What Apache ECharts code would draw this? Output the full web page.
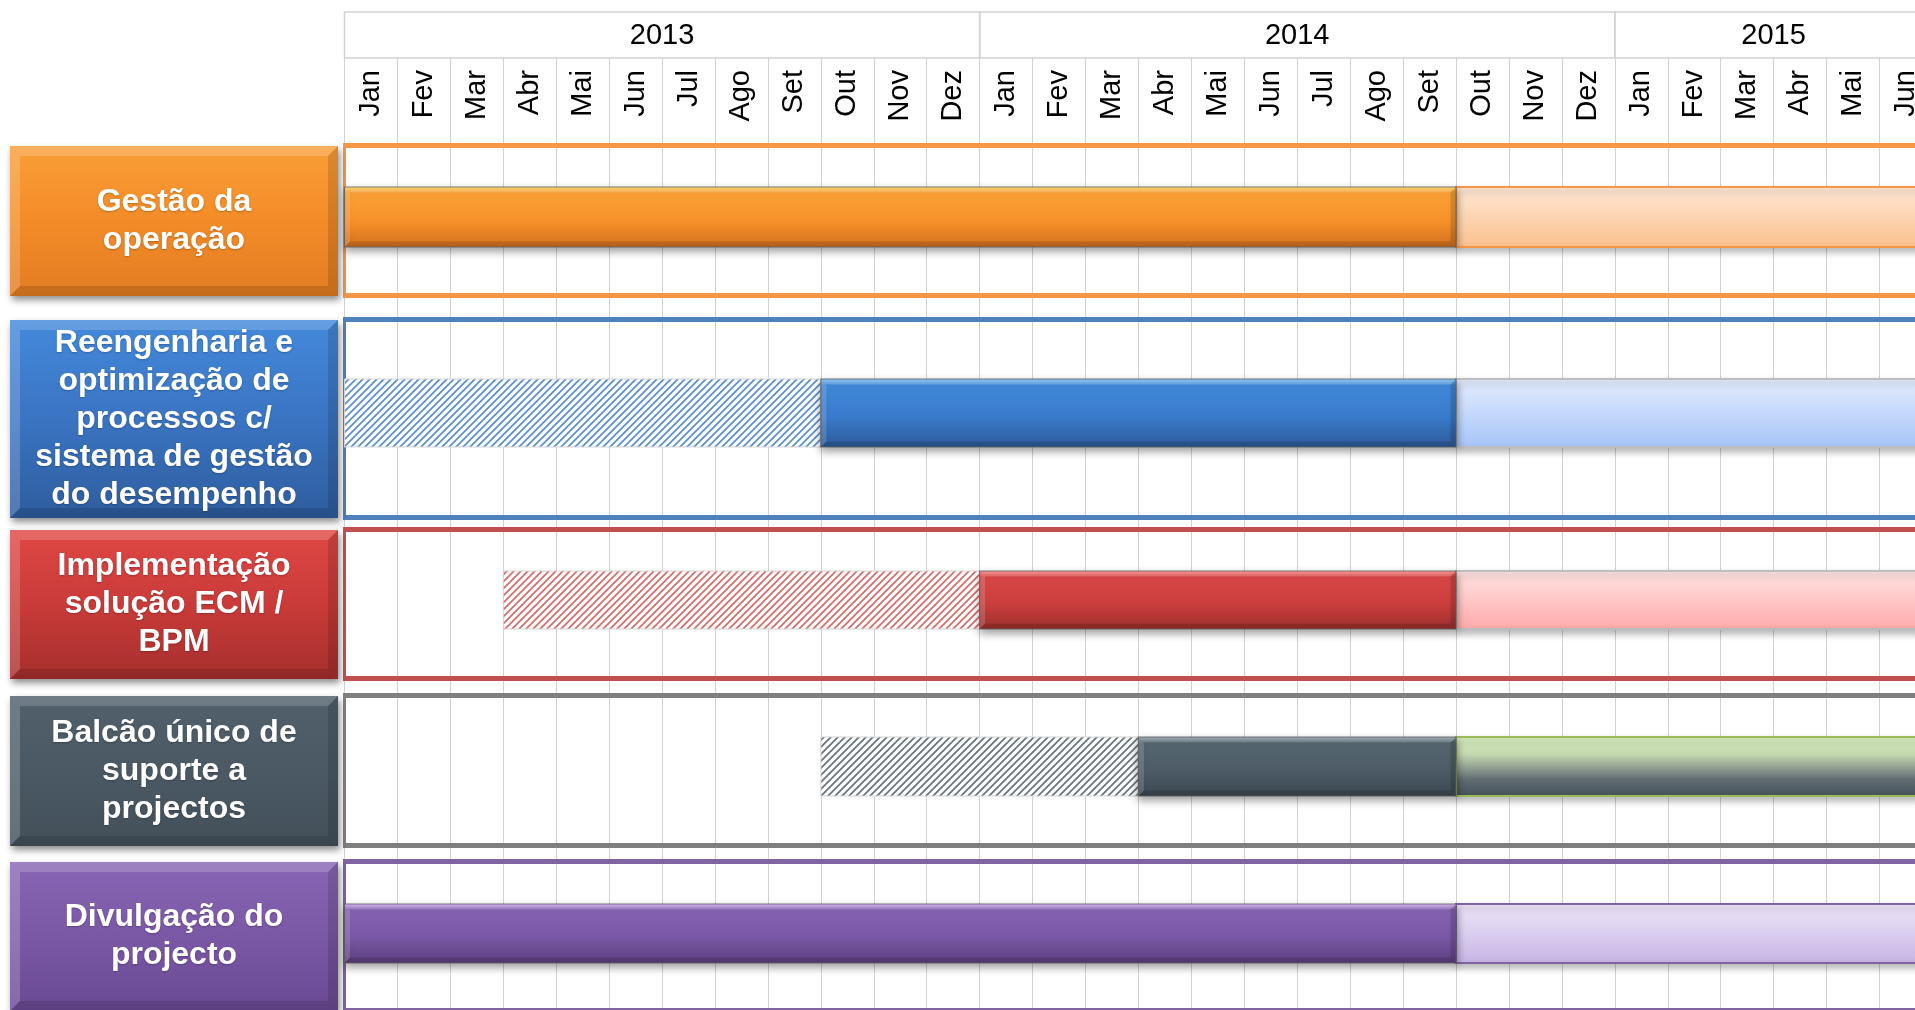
<!DOCTYPE html>
<html>
<head>
<meta charset="utf-8">
<script src="https://cdn.jsdelivr.net/npm/echarts@6/dist/echarts.min.js"></script>
<style>
html,body{margin:0;padding:0;background:#ffffff;}
#c{width:1915px;height:1010px;}
</style>
</head>
<body>
<div id="c"></div>
<script>
// ---------------- DATA ----------------
const anos = ['2013', '2014', '2015'];
const meses = ['Jan', 'Fev', 'Mar', 'Abr', 'Mai', 'Jun', 'Jul', 'Ago', 'Set', 'Out', 'Nov', 'Dez'];
const totalMeses = 30; // Jan 2013 .. Jun 2015
const tarefas = [
  'Gestão da\noperação',
  'Reengenharia e\noptimização de\nprocessos c/\nsistema de gestão\ndo desempenho',
  'Implementação\nsolução ECM /\nBPM',
  'Balcão único de\nsuporte a\nprojectos',
  'Divulgação do\nprojecto'
];
// month index, Jan 2013 = 0 (values are month boundaries)
const inicioPreparacao = [null, 0, 3, 9, null];   // hatched part
const inicioExecucao   = [0, 9, 12, 15, 0];        // solid part start
const fimExecucao      = [21, 21, 21, 21, 21];     // solid part end (end of Set 2014)
const fimContinuidade  = [30, 30, 30, 30, 30];     // light part end

// ---------------- LAYOUT / STYLE ----------------
const X0 = 344.5, MES_W = 52.93;
const layoutLinhas = [
  {top: 143, height: 155, bar: 60, shift: -3.5},
  {top: 317, height: 203, bar: 68, shift: -5.5},
  {top: 527, height: 154, bar: 58, shift: -4},
  {top: 693, height: 155, bar: 59, shift: -4},
  {top: 859, height: 154, bar: 59, shift: -2.5}
];
const temas = [
  { linha: '#F79646', caixa: ['#FA9E38', '#F38C27', '#E27C22'],
    solido: ['#FFD65C', '#FBA135', '#F7922B', '#D2701F'],
    claro: [[0, '#FEE8D6'], [1, '#FBC08D']], claroBorda: '#F79646', hach: '#F79646' },
  { linha: '#4F81BD', caixa: ['#4489DB', '#3A74C2', '#2E5D9E'],
    solido: ['#80C0F8', '#4189DA', '#3A7BCB', '#2C5B99'],
    claro: [[0, '#E4EDFD'], [1, '#A6C4F8']], claroBorda: '#BDBDBD', hach: '#5B8ED4' },
  { linha: '#C0504D', caixa: ['#DF4744', '#C93B39', '#A62F2D'],
    solido: ['#FF8C8C', '#DA4646', '#CB3F3E', '#9C2F2F'],
    claro: [[0, '#FFE4E4'], [1, '#FFA9A9']], claroBorda: '#BDBDBD', hach: '#D96A6A' },
  { linha: '#7F7F7F', caixa: ['#51606B', '#4B5964', '#43505A'],
    solido: ['#98A8B5', '#56666F', '#4D5C67', '#3C4852'],
    claro: [[0, '#DCF1C3'], [0.3, '#C4D8AE'], [0.5, '#97A595'], [0.72, '#5F6B70'], [1, '#45515B']],
    claroBorda: '#9BBB59', hach: '#67747C' },
  { linha: '#8064A2', caixa: ['#8966B5', '#7A58A5', '#6A4993'],
    solido: ['#D6ADFB', '#8663B3', '#7A58A6', '#5D3F7F'],
    claro: [[0, '#EEE7F9'], [1, '#C6B3E4']], claroBorda: '#8064A2', hach: '#8064A2' }
];
const FONTE = "'Liberation Sans', Arial, sans-serif";

function vgrad(stops, offsets) {
  const n = stops.length;
  return { type: 'linear', x: 0, y: 0, x2: 0, y2: 1,
    colorStops: stops.map((c, k) => ({ offset: offsets ? offsets[k] : k / (n - 1), color: c })) };
}
function vgradPairs(pairs) {
  return { type: 'linear', x: 0, y: 0, x2: 0, y2: 1,
    colorStops: pairs.map(p => ({ offset: p[0], color: p[1] })) };
}
const cacheHach = {};
function hachura(cor) {
  if (cacheHach[cor]) return cacheHach[cor];
  const s = 7;
  const c = document.createElement('canvas');
  c.width = s; c.height = s;
  const g = c.getContext('2d');
  g.fillStyle = '#ffffff'; g.fillRect(0, 0, s, s);
  g.strokeStyle = cor; g.lineWidth = 1.7;
  g.beginPath();
  g.moveTo(0, s); g.lineTo(s, 0);
  g.moveTo(-1, 1); g.lineTo(1, -1);
  g.moveTo(s - 1, s + 1); g.lineTo(s + 1, s - 1);
  g.stroke();
  cacheHach[cor] = c;
  return c;
}
function bisel(x, y, w, h, b, claro, escuro) {
  return [
    {type: 'polygon', shape: {points: [[x, y], [x + w, y], [x + w - b, y + b], [x + b, y + b]]}, style: {fill: claro}},
    {type: 'polygon', shape: {points: [[x, y], [x + b, y + b], [x + b, y + h - b], [x, y + h]]}, style: {fill: claro}},
    {type: 'polygon', shape: {points: [[x + w, y], [x + w, y + h], [x + w - b, y + h - b], [x + w - b, y + b]]}, style: {fill: escuro}},
    {type: 'polygon', shape: {points: [[x, y + h], [x + b, y + h - b], [x + w - b, y + h - b], [x + w, y + h]]}, style: {fill: escuro}}
  ];
}

// ---------------- GRIDS / AXES ----------------
const baseGrid = {left: X0, width: MES_W * totalMeses, outerBoundsMode: 'none', containLabel: false};
const grids = [
  Object.assign({}, baseGrid, {top: 12, height: 46}),    // years
  Object.assign({}, baseGrid, {top: 58, height: 85}),    // months
  Object.assign({}, baseGrid, {top: 58, bottom: 0})      // background grid lines
];
layoutLinhas.forEach(L => grids.push(Object.assign({}, baseGrid, {top: L.top, height: L.height})));

const xAxes = grids.map((g, k) => ({
  gridIndex: k, type: 'value', min: 0, max: totalMeses, interval: 1,
  show: k === 2,
  axisLine: {show: false}, axisTick: {show: false}, axisLabel: {show: false},
  splitLine: {show: k === 2, lineStyle: {color: '#d2d2d2', width: 1}}
}));
const yAxes = grids.map((g, k) => ({
  gridIndex: k, type: 'category', show: false,
  data: k === 0 ? ['ano'] : k === 1 ? ['mês'] : k === 2 ? ['fundo'] : [tarefas[k - 3]]
}));

// ---------------- SERIES ----------------
const series = [];

// years row
series.push({
  type: 'custom', xAxisIndex: 0, yAxisIndex: 0, clip: false, silent: true, z: 5,
  encode: {x: [0, 1], y: 2},
  data: anos.map((a, k) => [k * 12, Math.min(k * 12 + 12, totalMeses), 0]),
  renderItem: function (params, api) {
    const cs = params.coordSys;
    const p0 = api.coord([api.value(0), 0]), p1 = api.coord([api.value(1), 0]);
    return {type: 'group', children: [
      {type: 'rect', shape: {x: p0[0], y: cs.y, width: p1[0] - p0[0], height: cs.height},
        style: {fill: 'none', stroke: '#d2d2d2', lineWidth: 1.5}},
      {type: 'text', x: (p0[0] + p1[0]) / 2, y: cs.y + cs.height / 2 + 1,
        style: {text: anos[params.dataIndex], fill: '#000', fontSize: 29, fontFamily: FONTE,
          align: 'center', verticalAlign: 'middle'}}
    ]};
  }
});

// months row
const dadosMeses = [];
for (let m = 0; m < totalMeses; m++) dadosMeses.push([m, m + 1, 0]);
series.push({
  type: 'custom', xAxisIndex: 1, yAxisIndex: 1, clip: false, silent: true, z: 5,
  encode: {x: [0, 1], y: 2},
  data: dadosMeses,
  renderItem: function (params, api) {
    const cs = params.coordSys;
    const p0 = api.coord([api.value(0), 0]), p1 = api.coord([api.value(1), 0]);
    return {type: 'text', x: (p0[0] + p1[0]) / 2, y: cs.y + 12, rotation: Math.PI / 2,
      style: {text: meses[params.dataIndex % 12], fill: '#000', fontSize: 29, fontFamily: FONTE,
        align: 'right', verticalAlign: 'middle'}};
  }
});

// rows
tarefas.forEach((nome, i) => {
  const L = layoutLinhas[i], T = temas[i];
  const gi = i + 3;
  // frame + label box
  series.push({
    type: 'custom', xAxisIndex: gi, yAxisIndex: gi, clip: false, silent: true, z: 3,
    encode: {x: 0, y: 1},
    data: [[0, 0]],
    renderItem: function (params, api) {
      const cs = params.coordSys;
      const x0 = cs.x, y0 = cs.y, W = cs.width, H = cs.height;
      const bx = x0 - 334.5, by = y0 + 3, bw = 328, bh = H - 5;
      const kids = [
        {type: 'rect', shape: {x: x0 - 1.5, y: y0, width: W + 40, height: 5}, style: {fill: T.linha}},
        {type: 'rect', shape: {x: x0 - 1.5, y: y0 + H - 5, width: W + 40, height: 5}, style: {fill: T.linha}},
        {type: 'rect', shape: {x: x0 - 1.5, y: y0, width: 3, height: H}, style: {fill: T.linha}},
        {type: 'rect', shape: {x: bx, y: by, width: bw, height: bh},
          style: {fill: vgrad(T.caixa), shadowBlur: 7, shadowOffsetX: 2, shadowOffsetY: 4, shadowColor: 'rgba(0,0,0,0.45)'}}
      ].concat(bisel(bx, by, bw, bh, 10, 'rgba(255,255,255,0.18)', 'rgba(0,0,0,0.13)'));
      kids.push({type: 'text', x: bx + bw / 2, y: by + bh / 2,
        style: {text: nome, fill: '#ffffff', fontSize: 32, fontWeight: 'bold', fontFamily: FONTE,
          align: 'center', verticalAlign: 'middle', lineHeight: 38,
          textShadowColor: 'rgba(0,0,0,0.25)', textShadowBlur: 2, textShadowOffsetY: 1}});
      return {type: 'group', children: kids};
    }
  });
  // bars
  const segs = [];
  if (inicioPreparacao[i] !== null) segs.push([inicioPreparacao[i], inicioExecucao[i], 0, 0]);
  segs.push([fimExecucao[i], fimContinuidade[i], 2, 0]);
  segs.push([inicioExecucao[i], fimExecucao[i], 1, 0]);
  series.push({
    type: 'custom', xAxisIndex: gi, yAxisIndex: gi, clip: false, silent: true, z: 4,
    encode: {x: [0, 1], y: 3},
    data: segs,
    renderItem: function (params, api) {
      const s = api.value(0), e = api.value(1), k = api.value(2);
      const p0 = api.coord([s, 0]), p1 = api.coord([e, 0]);
      const h = L.bar, y = p0[1] + L.shift - h / 2, x = p0[0], w = p1[0] - p0[0];
      if (k === 0) {
        return {type: 'rect', shape: {x: x, y: y, width: w, height: h},
          style: {fill: {image: hachura(T.hach), repeat: 'repeat'}, stroke: '#d4d4d4', lineWidth: 1}};
      }
      if (k === 2) {
        return {type: 'rect', shape: {x: x, y: y, width: w, height: h},
          style: {fill: vgradPairs(T.claro), stroke: T.claroBorda, lineWidth: 2,
            shadowBlur: 7, shadowOffsetY: 4, shadowColor: 'rgba(0,0,0,0.28)'}};
      }
      return {type: 'group', children: [
        {type: 'rect', shape: {x: x, y: y, width: w, height: h},
          style: {fill: vgrad(T.solido, [0, 0.1, 0.55, 1]), stroke: 'rgba(90,90,90,0.8)', lineWidth: 1.2,
            shadowBlur: 8, shadowOffsetY: 4, shadowColor: 'rgba(0,0,0,0.38)'}}
      ].concat(bisel(x + 0.5, y + 0.5, w - 1, h - 1, 5, 'rgba(255,255,255,0.16)', 'rgba(0,0,0,0.13)'))};
    }
  });
});

const chart = echarts.init(document.getElementById('c'), null, {renderer: 'canvas'});
chart.setOption({
  backgroundColor: '#ffffff',
  animation: false,
  grid: grids,
  xAxis: xAxes,
  yAxis: yAxes,
  series: series
});
</script>
</body>
</html>
